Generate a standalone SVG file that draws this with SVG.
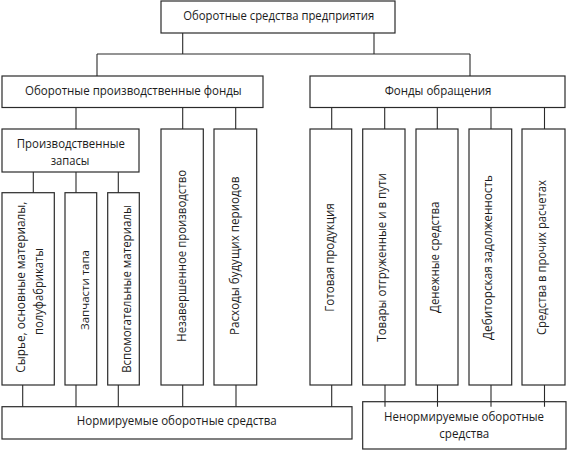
<svg xmlns="http://www.w3.org/2000/svg" width="568" height="451" viewBox="0 0 568 451">
<style>
.box{fill:#fff;stroke:#2a2a2a;stroke-width:1.2}
.t{font-family:"Open Sans","Noto Sans","DejaVu Sans",sans-serif;font-size:12.5px;fill:#1c1c1c;text-anchor:middle}
.s{font-size:11px}
.c{stroke:#2a2a2a;stroke-width:1.1;fill:none}
</style>
<rect width="568" height="451" fill="#fff"/>
<g id="n-top"><rect class="box" x="161" y="1" width="234" height="32"/><text class="t" x="278.8" y="19.5" textLength="191" lengthAdjust="spacingAndGlyphs">Оборотные средства предприятия</text></g>
<g id="n-opf"><rect class="box" x="2" y="76" width="261" height="31.5"/><text class="t" x="133.3" y="95" textLength="216.7" lengthAdjust="spacingAndGlyphs">Оборотные производственные фонды</text></g>
<g id="n-fo"><rect class="box" x="310" y="76" width="255" height="31.5"/><text class="t" x="438" y="94.5" textLength="106.7" lengthAdjust="spacingAndGlyphs">Фонды обращения</text></g>
<g id="n-pz"><rect class="box" x="2" y="129" width="137" height="43"/><text class="t" x="70.8" y="147.5" textLength="108" lengthAdjust="spacingAndGlyphs">Производственные</text><text class="t" x="70" y="165" textLength="38.7" lengthAdjust="spacingAndGlyphs">запасы</text></g>
<g id="n-syr"><rect class="box" x="2" y="192.7" width="52.3" height="192.3"/><text class="t" transform="translate(20.7,287.2) rotate(-90)" x="0" y="3.8" textLength="171" lengthAdjust="spacingAndGlyphs">Сырье, основные материалы,</text><text class="t" transform="translate(39.3,291.5) rotate(-90)" x="0" y="3.8" textLength="87" lengthAdjust="spacingAndGlyphs">полуфабрикаты</text></g>
<g id="n-zap"><rect class="box" x="65" y="192.7" width="31.7" height="192.3"/><text class="t s" transform="translate(85,290) rotate(-90)" x="0" y="3.6" textLength="80" lengthAdjust="spacingAndGlyphs">Запчасти  тапа</text></g>
<g id="n-vsp"><rect class="box" x="107.7" y="192.7" width="31.6" height="192.3"/><text class="t" transform="translate(126.7,289) rotate(-90)" x="0" y="3.8" textLength="167.7" lengthAdjust="spacingAndGlyphs">Вспомогательные материалы</text></g>
<g id="n-nez"><rect class="box" x="161" y="129" width="42.3" height="256"/><text class="t" transform="translate(181.7,255.8) rotate(-90)" x="0" y="3.8" textLength="171.7" lengthAdjust="spacingAndGlyphs">Незавершенное производство</text></g>
<g id="n-ras"><rect class="box" x="214" y="129" width="42.7" height="256"/><text class="t" transform="translate(235,255.8) rotate(-90)" x="0" y="3.8" textLength="158.3" lengthAdjust="spacingAndGlyphs">Расходы будущих периодов</text></g>
<g id="n-got"><rect class="box" x="310" y="129" width="41.7" height="256"/><text class="t" transform="translate(330,257.5) rotate(-90)" x="0" y="3.8" textLength="108.4" lengthAdjust="spacingAndGlyphs">Готовая продукция</text></g>
<g id="n-tov"><rect class="box" x="362.7" y="129" width="42.3" height="256"/><text class="t" transform="translate(381.7,257.5) rotate(-90)" x="0" y="3.8" textLength="168.4" lengthAdjust="spacingAndGlyphs">Товары отгруженные и в пути</text></g>
<g id="n-den"><rect class="box" x="416" y="129" width="42" height="256"/><text class="t" transform="translate(435,257.3) rotate(-90)" x="0" y="3.8" textLength="111.3" lengthAdjust="spacingAndGlyphs">Денежные средства</text></g>
<g id="n-deb"><rect class="box" x="469" y="129" width="42.7" height="256"/><text class="t" transform="translate(488.3,257.5) rotate(-90)" x="0" y="3.8" textLength="165" lengthAdjust="spacingAndGlyphs">Дебиторская задолженность</text></g>
<g id="n-pro"><rect class="box" x="522" y="129" width="43" height="256"/><text class="t" transform="translate(541.7,257.5) rotate(-90)" x="0" y="3.8" textLength="155" lengthAdjust="spacingAndGlyphs">Средства в прочих расчетах</text></g>
<g id="n-norm"><rect class="box" x="2" y="406.7" width="350" height="32.3"/><text class="t" x="176.7" y="425" textLength="200" lengthAdjust="spacingAndGlyphs">Нормируемые оборотные средства</text></g>
<g id="n-nenorm"><rect class="box" x="362.7" y="401.7" width="203.3" height="47.3"/><text class="t" x="464" y="421" textLength="160" lengthAdjust="spacingAndGlyphs">Ненормируемые оборотные</text><text class="t" x="464.3" y="438.3" textLength="50" lengthAdjust="spacingAndGlyphs">средства</text></g>
<g id="connectors" class="c">
<path d="M182.7 33V54M374 33V54M97 54H470M97 54V76M470 54V76"/>
<path d="M76 107.5V129M182.7 107.5V129M235.7 107.5V129"/>
<path d="M331.7 107.5V129M384.7 107.5V129M437.3 107.5V129M491 107.5V129M544.5 107.5V129"/>
<path d="M33.3 172V192.7M76 172V192.7M118.3 172V192.7"/>
<path d="M22.7 385V406.7M76 385V406.7M118.3 385V406.7M182.7 385V406.7M236 385V406.7M331.7 385V406.7"/>
<path d="M385 385V406.7M437.5 385V406.7M491 385V406.7M544.5 385V406.7"/>
</g>
</svg>
